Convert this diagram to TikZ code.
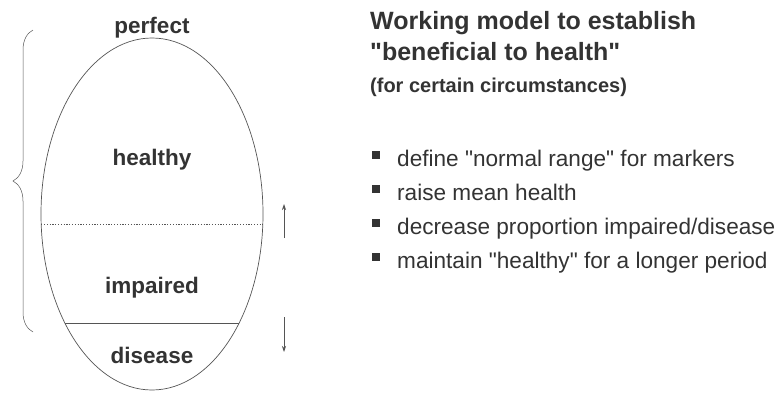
\documentclass[tikz,border=0pt]{standalone}
\usepackage{fontspec}
\setmainfont{Liberation Sans}
\usetikzlibrary{arrows.meta,decorations.pathreplacing}

\definecolor{inkgray}{HTML}{333333}
\definecolor{linegray}{HTML}{555555}

\tikzset{
  zone/.style={font=\fontsize{22.5}{26}\selectfont\bfseries, text=inkgray, anchor=base, inner sep=0pt},
  heading/.style={font=\fontsize{25}{29}\selectfont\bfseries, text=inkgray, anchor=base west, inner sep=0pt},
  subheading/.style={font=\fontsize{20}{23}\selectfont\bfseries, text=inkgray, anchor=base west, inner sep=0pt},
  point/.style={font=\fontsize{22.6}{26}\selectfont, text=inkgray, anchor=base west, inner sep=0pt},
  dot/.style={fill=inkgray, minimum size=7.5pt, inner sep=0pt},
  shift arrow/.style={linegray, line width=0.7pt, -{Stealth[length=6pt,width=4pt]}}
}

\begin{document}
\begin{tikzpicture}[x=1pt,y=1pt]
        \useasboundingbox (0,0) rectangle (779,-394);
        % egg of health states
        \draw [linegray, line width=0.7pt] (152,-214) ellipse (111 and 176);
        \begin{scope}
          \clip (152,-214) ellipse (111 and 176);
          \draw [linegray, line width=0.9pt, dash pattern=on 1.2pt off 1.6pt] (30,-224) -- (280,-224);
          \draw [linegray, line width=0.8pt] (30,-323) -- (280,-323);
        \end{scope}
        \node [zone] (perfect) at (152,-33) {perfect};
        \node [zone] (healthy) at (152,-165) {healthy};
        \node [zone] (impaired) at (152,-293) {impaired};
        \node [zone] (disease) at (152,-363) {disease};
        % brace over healthy + impaired
        \coordinate (braceLow) at (33,-332);
        \coordinate (braceHigh) at (33,-30);
        \draw [linegray, line width=0.5pt, decorate, decoration={brace, amplitude=20pt}] (braceLow) -- (braceHigh);
        % shift arrows
        \coordinate (upFrom) at (284,-238);
        \coordinate (upTo) at (284,-204);
        \coordinate (downFrom) at (284,-317);
        \coordinate (downTo) at (284,-352);
        \draw [shift arrow] (upFrom) -- (upTo);
        \draw [shift arrow] (downFrom) -- (downTo);
        % heading
        \node [heading] (title1) at (370,-29) {Working model to establish};
        \node [heading] (title2) at (370,-60) {\textquotedbl beneficial to health\textquotedbl};
        \node [subheading] (sub) at (370,-92) {(for certain circumstances)};
        % points
        \foreach \i/\yy/\txt in {1/166/{define \textquotedbl normal range\textquotedbl\ for markers},
                                 2/200/{raise mean health},
                                 3/234/{decrease proportion impaired/disease},
                                 4/268/{maintain \textquotedbl healthy\textquotedbl\ for a longer period}} {
          \node [point] (item\i) at (397,-\yy) {\txt};
          \node [dot] (bullet\i) at (376,-\yy+11) {};
        }
\end{tikzpicture}
\end{document}
